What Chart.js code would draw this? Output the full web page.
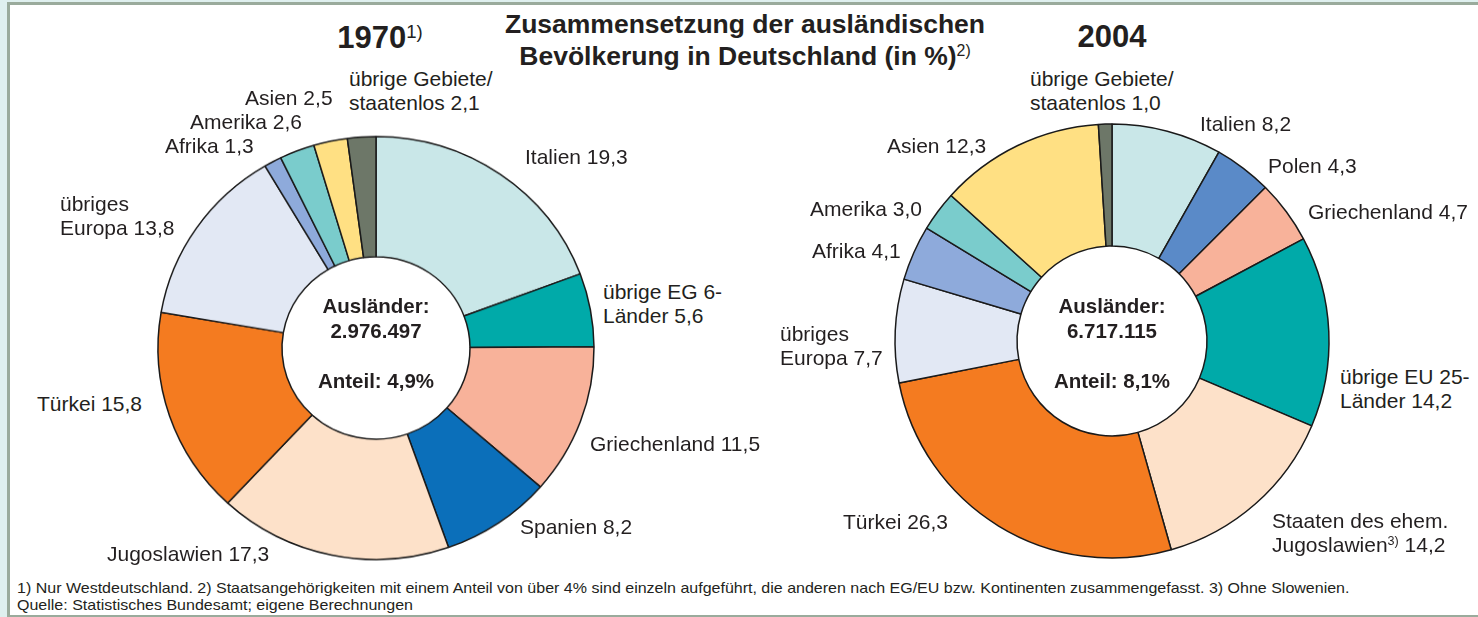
<!DOCTYPE html>
<html>
<head>
<meta charset="utf-8">
<script src="https://cdn.jsdelivr.net/npm/chart.js@4.4.1/dist/chart.umd.min.js"></script>
<style>
  html, body { margin: 0; padding: 0; }
  body {
    width: 1478px; height: 617px; overflow: hidden; position: relative;
    background: #dff0ef;
    font-family: "Liberation Sans", Arial, sans-serif; color: #231f20;
  }
  #frame {
    position: absolute; left: 7px; top: 2px; width: 1480px; height: 610px;
    background: #fff; border: 3px solid #9aab9c;
  }
  .wrap { position: absolute; width: 450px; height: 450px; transform-origin: 50% 50%; }
  .lbl { position: absolute; font-size: 21px; line-height: 24px; white-space: nowrap; }
  .ttl { position: absolute; font-weight: bold; text-align: center; white-space: nowrap; }
  .ctr { position: absolute; font-weight: bold; font-size: 20.5px; line-height: 25px; text-align: center; }
  sup { font-size: 60%; font-weight: normal; vertical-align: 0; position: relative; top: -0.55em; }
  .foot { position: absolute; left: 17px; font-size: 15px; line-height: 17px; white-space: nowrap;
    transform: scaleX(1.067); transform-origin: 0 50%; }
</style>
</head>
<body>
<div id="frame"></div>

<div class="wrap" style="left:151px;top:123px;transform:scaleY(0.97)"><canvas id="pie1970" width="450" height="450"></canvas></div>
<div class="wrap" style="left:887px;top:116px"><canvas id="pie2004" width="450" height="450"></canvas></div>

<div class="ttl" style="left:495px;top:8px;width:500px;font-size:26.5px;line-height:32px">Zusammensetzung der ausländischen<br>Bevölkerung in Deutschland (in %)<sup>2)</sup></div>
<div class="ttl" style="left:300px;top:18px;width:160px;font-size:31px;line-height:40px">1970<sup>1)</sup></div>
<div class="ttl" style="left:1032px;top:17px;width:160px;font-size:31px;line-height:40px">2004</div>

<div class="ctr" style="left:276px;top:293px;width:200px">Ausländer:<br>2.976.497<br><br>Anteil: 4,9%</div>
<div class="ctr" style="left:1012px;top:293px;width:200px">Ausländer:<br>6.717.115<br><br>Anteil: 8,1%</div>

<div id="labels"></div>

<div class="foot" style="top:579px">1) Nur Westdeutschland. 2) Staatsangehörigkeiten mit einem Anteil von über 4% sind einzeln aufgeführt, die anderen nach EG/EU bzw. Kontinenten zusammengefasst. 3) Ohne Slowenien.</div>
<div class="foot" style="top:596px">Quelle: Statistisches Bundesamt; eigene Berechnungen</div>

<script>
// 1970
const labels1970 = ['Italien', 'übrige EG 6-Länder', 'Griechenland', 'Spanien', 'Jugoslawien', 'Türkei',
    'übriges Europa', 'Afrika', 'Amerika', 'Asien', 'übrige Gebiete/staatenlos'];
const values1970 = [19.3, 5.6, 11.5, 8.2, 17.3, 15.8, 13.8, 1.3, 2.6, 2.5, 2.1];
const colors1970 = ['#c9e7e8', '#00aaa9', '#f8b29a', '#0b6fba', '#fde1c9', '#f47b20',
    '#e2e8f4', '#8eaadb', '#7acccc', '#ffe083', '#6d7768'];

// 2004
const labels2004 = ['Italien', 'Polen', 'Griechenland', 'übrige EU 25-Länder', 'Staaten des ehem. Jugoslawien',
    'Türkei', 'übriges Europa', 'Afrika', 'Amerika', 'Asien', 'übrige Gebiete/staatenlos'];
const values2004 = [8.2, 4.3, 4.7, 14.2, 14.2, 26.3, 7.7, 4.1, 3.0, 12.3, 1.0];
const colors2004 = ['#c9e7e8', '#5a8ac8', '#f8b29a', '#00aaa9', '#fde1c9',
    '#f47b20', '#e2e8f4', '#8eaadb', '#7acccc', '#ffe083', '#6d7768'];

// text labels next to the slices: [html, left, top]
const labelPos = [
    ['übrige Gebiete/<br>staatenlos 2,1', 349, 67],
    ['Asien 2,5', 245, 86],
    ['Amerika 2,6', 190, 110],
    ['Afrika 1,3', 165, 134],
    ['übriges<br>Europa 13,8', 60, 192],
    ['Italien 19,3', 525, 145],
    ['übrige EG 6-<br>Länder 5,6', 603, 280],
    ['Türkei 15,8', 37, 392],
    ['Griechenland 11,5', 590, 432],
    ['Spanien 8,2', 520, 515],
    ['Jugoslawien 17,3', 107, 542],

    ['übrige Gebiete/<br>staatenlos 1,0', 1030, 67],
    ['Italien 8,2', 1200, 112],
    ['Polen 4,3', 1268, 154],
    ['Griechenland 4,7', 1308, 200],
    ['Asien 12,3', 887, 134],
    ['Amerika 3,0', 810, 197],
    ['Afrika 4,1', 812, 239],
    ['übriges<br>Europa 7,7', 780, 322],
    ['übrige EU 25-<br>Länder 14,2', 1340, 365],
    ['Türkei 26,3', 843, 510],
    ['Staaten des ehem.<br>Jugoslawien<sup>3)</sup> 14,2', 1272, 509],
];

const box = document.getElementById('labels');
labelPos.forEach(([html, x, y]) => {
    const d = document.createElement('div');
    d.className = 'lbl';
    d.style.left = x + 'px';
    d.style.top = y + 'px';
    d.innerHTML = html;
    box.appendChild(d);
});

function makePie(id, labels, values, colors, outer, inner) {
    return new Chart(document.getElementById(id), {
        type: 'doughnut',
        data: {
            labels: labels,
            datasets: [{
                data: values,
                backgroundColor: colors,
                borderColor: '#1a1a1a',
                borderWidth: 1.5,
            }],
        },
        options: {
            responsive: false,
            animation: false,
            radius: outer,
            cutout: (inner / outer * 100) + '%',
            layout: { padding: 0 },
            plugins: {
                legend: { display: false },
                tooltip: { enabled: false },
            },
        },
    });
}

makePie('pie1970', labels1970, values1970, colors1970, 218, 94);
makePie('pie2004', labels2004, values2004, colors2004, 217, 95);
</script>
</body>
</html>
